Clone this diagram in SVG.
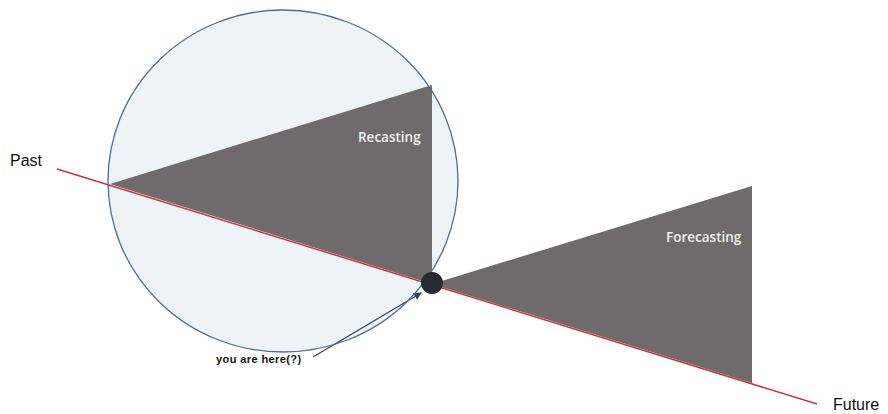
<svg xmlns="http://www.w3.org/2000/svg" width="888" height="414" viewBox="0 0 888 414">
<defs>
<style>
.lbl{font-family:"Liberation Sans",Arial,sans-serif;fill:#111}
.in{font-family:"Open Sans","Liberation Sans",sans-serif;font-weight:600;fill:#f0f0f0;font-size:13.5px}
.tri{fill:#6f6b6c}
</style>
<marker id="ah" markerWidth="8" markerHeight="8" refX="7" refY="4" orient="auto" markerUnits="userSpaceOnUse">
<path d="M0,0 L8,4 L0,8 z" fill="#3a4657"/>
</marker>
</defs>
<rect width="888" height="414" fill="#fff"/>
<g id="circle-fill"><ellipse cx="283" cy="181" rx="175" ry="171" fill="#eef3f8"/></g>
<g id="recasting">
<polygon class="tri" points="110,184 432,85 432,284"/>
<text class="in" x="358" y="142">Recasting</text>
</g>
<g id="forecasting">
<polygon class="tri" points="432,284 752,186 752,383"/>
<text class="in" x="666" y="242">Forecasting</text>
</g>
<g id="connectors">
<line x1="57" y1="169" x2="817" y2="404" stroke="#c8343f" stroke-width="1.5"/>
<line x1="313" y1="357" x2="421" y2="293" stroke="#3a4657" stroke-width="1.3" marker-end="url(#ah)"/>
</g>
<g id="circle"><ellipse cx="283" cy="181" rx="175" ry="171" fill="none" stroke="#4d6f92" stroke-width="1.3"/></g>
<g id="dot"><circle cx="432" cy="283" r="11" fill="#262a33"/></g>
<g id="labels">
<text class="lbl" x="10" y="166" font-size="16">Past</text>
<text class="lbl" x="833" y="410" font-size="16">Future</text>
<text class="lbl" x="216" y="363" font-size="11" font-weight="bold" letter-spacing="0.4">you are here(?)</text>
</g>
</svg>
